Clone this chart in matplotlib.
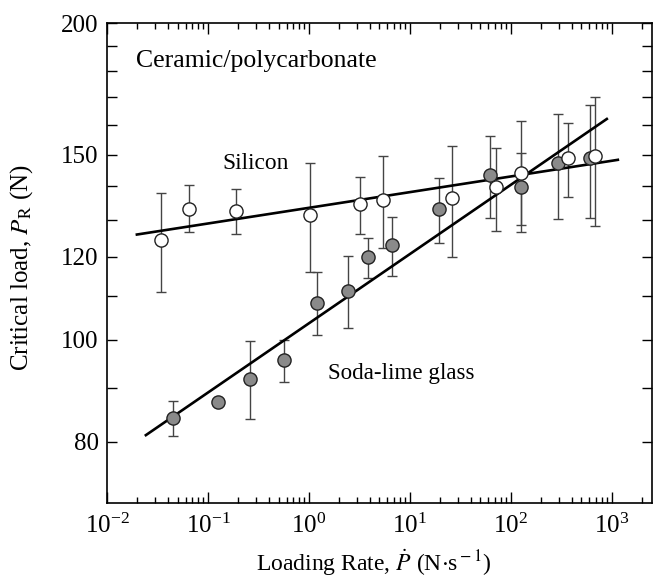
import numpy as np
import matplotlib
matplotlib.use("Agg")
import matplotlib.pyplot as plt
from matplotlib.ticker import FixedLocator, FixedFormatter, LogLocator, NullFormatter

plt.rcParams["font.family"] = ["Liberation Serif", "DejaVu Serif"]
plt.rcParams["mathtext.fontset"] = "stix"

# Silicon (open circles)
si_rate = [0.034, 0.065, 0.19, 1.02, 3.2, 5.4, 26.0, 71.0, 126.0, 366.0, 679.0]
si_load = [124.5, 133.3, 132.7, 131.5, 134.5, 135.9, 136.5, 139.8, 144.1, 148.9, 149.6]
si_hi = [138.0, 140.4, 139.2, 147.3, 142.9, 149.6, 152.9, 152.2, 161.5, 160.8, 170.2]
si_lo = [111.0, 126.5, 126.2, 115.9, 126.2, 122.2, 120.0, 127.0, 126.5, 136.8, 128.4]

# Soda-lime glass (grey circles)
sl_rate = [0.045, 0.126, 0.261, 0.566, 1.2, 2.43, 3.84, 6.64, 19.4, 62.0, 126.0, 292.0, 605.0]
sl_load = [84.3, 87.3, 91.9, 95.6, 108.5, 111.4, 119.8, 123.2, 133.3, 143.5, 139.8, 147.3, 148.9]
sl_hi = [87.5, 87.8, 99.7, 99.9, 115.9, 120.2, 125.1, 130.9, 142.6, 156.3, 150.6, 164.0, 167.2]
sl_lo = [81.0, 86.8, 84.1, 91.2, 101.0, 102.6, 114.4, 115.1, 123.7, 130.7, 128.6, 130.4, 130.7]

# power-law fits P = A * rate**n, with the rate span drawn
si_fit = (133.5, 0.0149)
si_fit_span = (0.0198, 1146.0)
sl_fit = (103.7, 0.0658)
sl_fit_span = (0.0243, 891.0)

y_major = [80, 100, 120, 150, 200]
y_minor = [90, 110, 130, 140, 160, 170, 180, 190]

fig = plt.figure(figsize=(6.56, 5.84), dpi=100)
ax = fig.add_axes([0.163, 0.1387, 0.831, 0.8219])
ax.set_xscale("log")
ax.set_yscale("log")


def fit_line(fit, span):
    A, n = fit
    x = np.logspace(np.log10(span[0]), np.log10(span[1]), 50)
    ax.plot(x, A * x ** n, color="black", lw=1.9, zorder=2)


fit_line(si_fit, si_fit_span)
fit_line(sl_fit, sl_fit_span)


def series(rate, load, hi, lo, face):
    load = np.array(load)
    err = [load - np.array(lo), np.array(hi) - load]
    ax.errorbar(rate, load, yerr=err, fmt="none", ecolor="#444444",
                elinewidth=1.0, capsize=3.5, capthick=1.0, zorder=1)
    ax.plot(rate, load, "o", ms=9.5, mfc=face, mec="#222222", mew=1.0,
            zorder=3)


series(sl_rate, sl_load, sl_hi, sl_lo, "#8a8a8a")
series(si_rate, si_load, si_hi, si_lo, "white")

ax.set_xlim(1e-2, 2500)
ax.set_ylim(70, 200)

ax.xaxis.set_major_locator(LogLocator(base=10, numticks=10))
ax.xaxis.set_minor_locator(LogLocator(base=10, subs=np.arange(2, 10), numticks=20))
ax.xaxis.set_minor_formatter(NullFormatter())
ax.yaxis.set_major_locator(FixedLocator(y_major))
ax.yaxis.set_major_formatter(FixedFormatter([str(v) for v in y_major]))
ax.yaxis.set_minor_locator(FixedLocator(y_minor))
ax.yaxis.set_minor_formatter(NullFormatter())

ax.tick_params(which="both", direction="in", top=True, right=True,
               labelsize=18, width=1.0)
ax.tick_params(axis="x", which="major", length=8, pad=8)
ax.tick_params(axis="x", which="minor", length=4)
ax.tick_params(axis="y", which="both", length=7, pad=6)
for s in ax.spines.values():
    s.set_linewidth(1.2)

ax.set_xlabel(r"Loading Rate, $\dot{P}$ (N$\cdot$s$^{\rm -1}$)", fontsize=17)
ax.set_ylabel(r"Critical load, $P_{\rm R}$ (N)", fontsize=18)
ax.xaxis.set_label_coords(0.49, -0.094)
ax.yaxis.set_label_coords(-0.132, 0.49)

ax.text(0.0194, 181.7, "Ceramic/polycarbonate", fontsize=18.5, va="baseline", ha="left")
ax.text(0.138, 145.4, "Silicon", fontsize=16.8, va="baseline", ha="left")
ax.text(1.54, 91.9, "Soda-lime glass", fontsize=16.6, va="baseline", ha="left")

fig.savefig("out.png", dpi=100)
